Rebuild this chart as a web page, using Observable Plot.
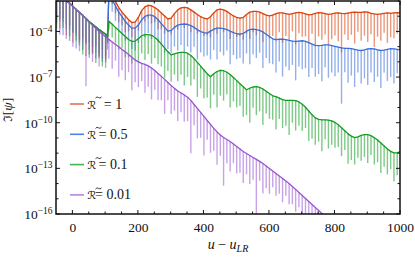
<!DOCTYPE html>
<html><head><meta charset="utf-8">
<script src="https://cdn.jsdelivr.net/npm/d3@7"></script>
<script src="https://cdn.jsdelivr.net/npm/@observablehq/plot@0.6"></script>
<style>html,body{margin:0;padding:0;background:#fff}svg{display:block}</style>
</head><body><div id="chart"></div>
<script>
// sample positions u - u_LR (one spike / dip per sample)
const u = [-50,-40,-30,-20,-10,0,10,20,30,40,50,60,70,80,90,100,106,
  110,120,130,140,150,160,170,180,190,200,
  210,220,230,240,250,260,270,280,290,300,
  310,320,330,340,350,360,370,380,390,400,
  410,420,430,440,450,460,470,480,490,500,
  510,520,530,540,550,560,570,580,590,600,
  610,620,630,640,650,660,670,680,690,700,
  710,720,730,740,750,760,770,780,790,800,
  810,820,830,840,850,860,870,880,890,900,
  910,920,930,940,950,960,970,980,990,1000];

const labels = ["1", "0.5", "0.1", "0.01"];
const colors = ["#d8440e", "#3a6fd8", "#139d22", "#9a55d4"];
const legendColors = ["#e07452", "#4f82e2", "#46b455", "#b585e3"];

// log10 of the upper envelope, and depth (in decades) of each dip
const topR1 = [-1.5,-1.6,-1.75,-1.95,-2.12,-2.32,-2.52,-2.72,-2.91,-3.12,-3.33,-3.5,-3.68,-3.85,-4.0,-4.15,-4.3,
  -1.2,-1.6,-2.0,-2.4,-2.7,-2.95,-3.2,-3.38,-3.35,-3.05,
  -2.6,-2.35,-2.25,-2.28,-2.4,-2.55,-2.75,-2.95,-3.15,-3.1,
  -2.8,-2.55,-2.42,-2.38,-2.42,-2.55,-2.7,-2.85,-3.0,-3.1,
  -3.15,-3.0,-2.75,-2.55,-2.5,-2.55,-2.65,-2.8,-2.95,-3.05,
  -3.1,-3.05,-2.85,-2.7,-2.65,-2.65,-2.7,-2.8,-2.9,-2.95,
  -2.9,-2.8,-2.75,-2.75,-2.8,-2.85,-2.8,-2.75,-2.72,-2.75,
  -2.82,-2.88,-2.85,-2.78,-2.73,-2.75,-2.8,-2.85,-2.82,-2.77,
  -2.75,-2.78,-2.8,-2.76,-2.72,-2.7,-2.72,-2.72,-2.68,-2.7,
  -2.78,-2.82,-2.85,-2.82,-2.78,-2.75,-2.78,-2.75,-2.73,-2.75];
const dipR1 = [1.6,2.2,1.4,2.3,1.5,2.4,1.6,2.2,1.5,2.5,1.4,2.0,1.3,1.9,1.2,1.7,0.3,
  0.5,0.6,0.8,1.0,0.9,1.1,0.8,1.0,1.2,0.9,
  0.7,1.0,0.9,1.2,1.0,1.3,1.1,1.2,0.9,1.1,
  1.0,1.3,1.1,1.4,1.2,1.5,1.1,1.3,1.0,1.2,
  1.1,1.4,1.2,1.6,1.3,1.5,1.2,1.7,1.1,1.3,
  1.2,1.5,1.3,1.8,1.4,1.6,1.2,1.9,1.3,1.5,
  1.4,1.8,1.3,2.0,1.5,1.7,1.2,2.1,1.4,1.6,
  1.5,1.9,1.3,2.2,1.6,1.8,1.4,2.0,1.7,1.5,
  1.9,2.6,1.4,1.8,1.5,2.1,1.3,1.9,1.6,2.0,
  1.4,2.2,1.5,1.8,1.3,2.0,1.6,1.7,1.4,1.9];

const topR05 = [-1.5,-1.6,-1.75,-1.95,-2.12,-2.32,-2.52,-2.72,-2.91,-3.12,-3.33,-3.5,-3.68,-3.85,-4.0,-4.15,-4.3,
  -1.4,-1.9,-2.3,-2.7,-3.0,-3.3,-3.55,-3.75,-3.75,-3.55,
  -3.2,-2.98,-2.9,-2.9,-3.0,-3.2,-3.45,-3.7,-3.95,-3.9,
  -3.7,-3.55,-3.5,-3.48,-3.5,-3.58,-3.7,-3.85,-3.98,-4.05,
  -4.08,-3.95,-3.82,-3.75,-3.75,-3.78,-3.85,-3.95,-4.05,-4.12,
  -4.15,-4.1,-3.95,-3.85,-3.82,-3.85,-3.9,-4.0,-4.15,-4.3,
  -4.45,-4.5,-4.48,-4.47,-4.5,-4.55,-4.6,-4.62,-4.6,-4.58,
  -4.62,-4.7,-4.8,-4.88,-4.9,-4.88,-4.85,-4.85,-4.9,-4.95,
  -5.0,-5.05,-5.08,-5.08,-5.1,-5.15,-5.2,-5.22,-5.18,-5.12,
  -5.1,-5.12,-5.18,-5.22,-5.2,-5.15,-5.1,-5.12,-5.15,-5.18];
const dipR05 = [1.9,1.5,2.5,1.6,2.2,1.7,2.6,1.8,2.3,1.6,2.4,1.5,2.1,1.6,2.0,1.5,0.4,
  0.6,0.8,1.0,1.2,1.1,1.3,1.0,1.4,1.5,1.2,
  1.0,1.4,1.2,1.6,1.3,1.5,1.4,1.7,1.2,1.5,
  1.3,1.7,1.4,1.9,1.5,1.8,1.3,2.0,1.4,1.6,
  1.5,1.9,1.4,2.1,1.6,1.8,1.4,2.2,1.5,1.7,
  1.6,2.0,1.5,2.3,1.7,1.9,1.5,2.4,1.6,1.8,
  1.7,2.2,1.5,2.5,1.8,2.0,1.6,2.6,1.7,1.9,
  1.8,2.3,1.6,2.1,1.9,2.4,1.5,2.2,1.8,2.0,
  1.7,3.7,1.6,2.3,1.8,2.5,1.5,2.2,1.9,2.4,
  1.6,2.2,1.8,2.5,1.5,2.1,1.9,2.3,1.6,2.0];

const topR01 = [-1.5,-1.6,-1.75,-1.95,-2.12,-2.32,-2.52,-2.72,-2.91,-3.12,-3.33,-3.5,-3.68,-3.85,-4.0,-4.15,-4.3,
  -3.3,-3.5,-3.7,-3.9,-4.1,-4.3,-4.5,-4.62,-4.6,-4.45,
  -4.25,-4.18,-4.18,-4.22,-4.35,-4.55,-4.8,-5.05,-5.3,-5.5,
  -5.45,-5.38,-5.35,-5.35,-5.4,-5.55,-5.75,-6.0,-6.25,-6.5,
  -6.75,-6.95,-6.75,-6.6,-6.52,-6.55,-6.65,-6.8,-7.0,-7.2,
  -7.4,-7.6,-7.8,-7.7,-7.62,-7.6,-7.65,-7.75,-7.9,-8.05,
  -8.2,-8.25,-8.35,-8.45,-8.5,-8.5,-8.5,-8.52,-8.6,-8.75,
  -8.95,-9.2,-9.45,-9.65,-9.75,-9.78,-9.78,-9.8,-9.85,-9.95,
  -10.1,-10.3,-10.5,-10.7,-10.85,-10.95,-10.9,-10.8,-10.75,-10.75,
  -10.82,-10.95,-11.1,-11.3,-11.5,-11.7,-11.85,-11.95,-11.95,-11.85];
const dipR01 = [2.3,1.7,2.0,1.9,2.5,1.8,2.1,2.0,2.6,1.7,2.2,1.9,2.4,1.8,2.3,1.9,0.5,
  0.6,0.9,1.1,1.3,1.0,1.4,1.2,1.5,1.3,1.6,
  1.2,1.7,1.3,1.9,1.4,1.6,1.5,2.0,1.3,1.8,
  1.4,1.9,1.5,2.2,1.6,2.0,1.4,2.3,1.5,1.9,
  1.6,2.1,1.4,2.4,1.7,2.0,1.5,2.2,1.6,1.8,
  1.5,2.0,1.7,2.3,1.4,1.9,1.6,2.4,1.5,1.7,
  1.6,2.2,1.4,1.9,1.7,2.3,1.5,2.0,1.6,1.8,
  1.4,2.0,1.6,1.8,1.5,2.1,1.3,1.9,1.6,1.7,
  1.5,1.9,1.3,2.0,1.6,1.8,1.4,1.7,1.5,1.9,
  1.3,1.8,1.5,2.0,1.4,1.7,1.2,1.9,1.5,1.6];

const topR001 = [-1.5,-1.6,-1.75,-1.95,-2.12,-2.32,-2.52,-2.72,-2.91,-3.14,-3.37,-3.57,-3.77,-3.97,-4.16,-4.33,-4.43,
  -4.49,-4.66,-4.82,-4.98,-5.15,-5.31,-5.48,-5.67,-5.84,-5.97,
  -6.07,-6.13,-6.23,-6.37,-6.53,-6.73,-6.92,-7.12,-7.32,-7.52,
  -7.71,-7.88,-8.01,-8.14,-8.3,-8.5,-8.77,-9.03,-9.29,-9.55,
  -9.82,-10.08,-10.34,-10.57,-10.77,-10.94,-11.07,-11.2,-11.36,-11.53,
  -11.69,-11.86,-11.99,-12.12,-12.25,-12.38,-12.51,-12.65,-12.81,-12.97,
  -13.14,-13.3,-13.47,-13.63,-13.8,-13.96,-14.16,-14.35,-14.55,-14.75,
  -14.95,-15.14,-15.34,-15.54,-15.73,-15.93,-16.13,-16.33,-16.53];
const dipR001 = [2.0,2.6,1.65,2.55,1.78,2.68,1.78,2.58,1.89,4.46,1.83,2.43,1.63,2.33,1.64,2.07,0.77,
  1.3,1.8,1.1,2.0,1.4,1.9,1.2,2.2,1.5,1.7,
  1.2,1.9,1.4,2.1,1.3,1.8,1.6,2.3,1.2,1.9,
  1.5,2.0,1.3,1.8,1.6,3.5,1.4,2.0,1.7,2.6,
  1.3,1.9,1.5,2.2,1.4,3.2,1.6,2.0,1.3,1.8,
  1.6,2.1,1.4,1.9,1.5,3.6,1.3,2.0,1.5,1.7,
  1.1,1.5,1.2,1.6,1.0,1.4,1.2,1.5,1.0,1.3,
  1.3,1.5,1.1,1.4,1.2,1.0,0.8,0.6,0.5];

const tops = [topR1, topR05, topR01, topR001];
const dips = [dipR1, dipR05, dipR01, dipR001];

const xTickLabels = [0, 200, 400, 600, 800, 1000];
const yTickLabels = [-16, -13, -10, -7, -4];

const SERIF = "'Liberation Serif', 'DejaVu Serif', serif";

function rows(t, d) {
  return t.map((v, i) => ({u: u[i], top: 10 ** v, dip: 10 ** (v - d[i])}));
}

const marks = [];
tops.forEach((t, k) => {
  const r = rows(t, dips[k]);
  marks.push(Plot.ruleX(r, {x: "u", y1: "top", y2: "dip", stroke: colors[k], strokeWidth: 1.4, strokeOpacity: 0.55, clip: true}));
  marks.push(Plot.lineY(r, {x: "u", y: "top", stroke: colors[k], strokeWidth: 1.3, clip: true}));
});
marks.push(Plot.axisX({ticks: xTickLabels, tickSize: 0, tickPadding: 8, tickFormat: d => String(d)}));
marks.push(Plot.axisY({ticks: yTickLabels.map(e => 10 ** e), tickSize: 0, tickPadding: 4,
  tickFormat: d => "10^" + "\u2212" + Math.round(-Math.log10(d))}));

const plot = Plot.plot({
  width: 415, height: 259,
  marginLeft: 56, marginRight: 15, marginTop: 1, marginBottom: 45,
  x: {domain: [-50, 1000], label: null},
  y: {type: "log", domain: [1e-16, 1e-2], label: null},
  style: {fontFamily: SERIF, fontSize: "13.5px", background: "#fff", color: "#111"},
  marks
});
document.getElementById("chart").appendChild(plot);

const svg = d3.select(plot);
svg.selectAll("text").attr("font-family", SERIF);
// superscript exponents
svg.selectAll('g[aria-label="y-axis tick label"] text').each(function () {
  const s = this.textContent.split("^");
  const t = d3.select(this);
  t.text(s[0]);
  t.append("tspan").attr("dy", "-0.5em").attr("font-size", "9.5px").text(s[1]);
});

const sx = plot.scale("x"), sy = plot.scale("y");
const X0 = sx.apply(-50), X1 = sx.apply(1000), Y0 = sy.apply(1e-2), Y1 = sy.apply(1e-16);
const g = svg.append("g");
// inward ticks
for (let v = 0; v <= 1000; v += 50) {
  const x = sx.apply(v), L = v % 200 === 0 ? 4 : 2.5;
  g.append("line").attr("x1", x).attr("x2", x).attr("y1", Y1).attr("y2", Y1 - L).attr("stroke", "#111");
  g.append("line").attr("x1", x).attr("x2", x).attr("y1", Y0).attr("y2", Y0 + L).attr("stroke", "#111");
}
for (let e = -16; e <= -2; e++) {
  const y = sy.apply(10 ** e), L = (e + 16) % 3 === 0 ? 4 : 2.5;
  g.append("line").attr("x1", X0).attr("x2", X0 + L).attr("y1", y).attr("y2", y).attr("stroke", "#111");
  g.append("line").attr("x1", X1).attr("x2", X1 - L).attr("y1", y).attr("y2", y).attr("stroke", "#111");
}
g.append("rect").attr("x", X0).attr("y", Y0).attr("width", X1 - X0).attr("height", Y1 - Y0)
  .attr("fill", "none").attr("stroke", "#111").attr("stroke-width", 1.5);

// axis titles
const xt = svg.append("text").attr("x", 228).attr("y", 249).attr("text-anchor", "middle")
  .attr("font-family", SERIF).attr("font-size", "14px").attr("fill", "#111");
xt.append("tspan").attr("font-style", "italic").text("u");
xt.append("tspan").text(" \u2212 ");
xt.append("tspan").attr("font-style", "italic").text("u");
xt.append("tspan").attr("font-style", "italic").attr("font-size", "10px").attr("dy", "3").text("LR");

const yt = svg.append("text").attr("transform", "translate(12,110) rotate(-90)").attr("text-anchor", "middle")
  .attr("font-family", SERIF).attr("font-size", "13.5px").attr("fill", "#111");
yt.append("tspan").attr("font-family", "'DejaVu Serif'").attr("font-size", "12px").text("\u2111");
yt.append("tspan").text("[");
yt.append("tspan").attr("font-style", "italic").text("\u03C8");
yt.append("tspan").text("]");

// legend
const lg = svg.append("g");
labels.forEach((lab, k) => {
  const y = 104 + k * 30.3;
  lg.append("line").attr("x1", 70).attr("x2", 84).attr("y1", y).attr("y2", y)
    .attr("stroke", legendColors[k]).attr("stroke-width", 1.6);
  lg.append("text").attr("x", 92).attr("y", y + 4.5).attr("font-family", "'DejaVu Sans'")
    .attr("font-size", "11px").attr("fill", "#111").text("\u211B");
  const cx = 98.5, ty = y - 6.5;
  lg.append("path").attr("d", `M${cx - 3},${ty + 0.6} q1.5,-2 3,-0.6 t3,-0.6`)
    .attr("fill", "none").attr("stroke", "#111").attr("stroke-width", 0.8);
  lg.append("text").attr("x", 113).attr("y", y + 4.5).attr("font-family", SERIF)
    .attr("font-size", "14px").attr("fill", "#111").text("= " + lab);
});
</script>
</body></html>
